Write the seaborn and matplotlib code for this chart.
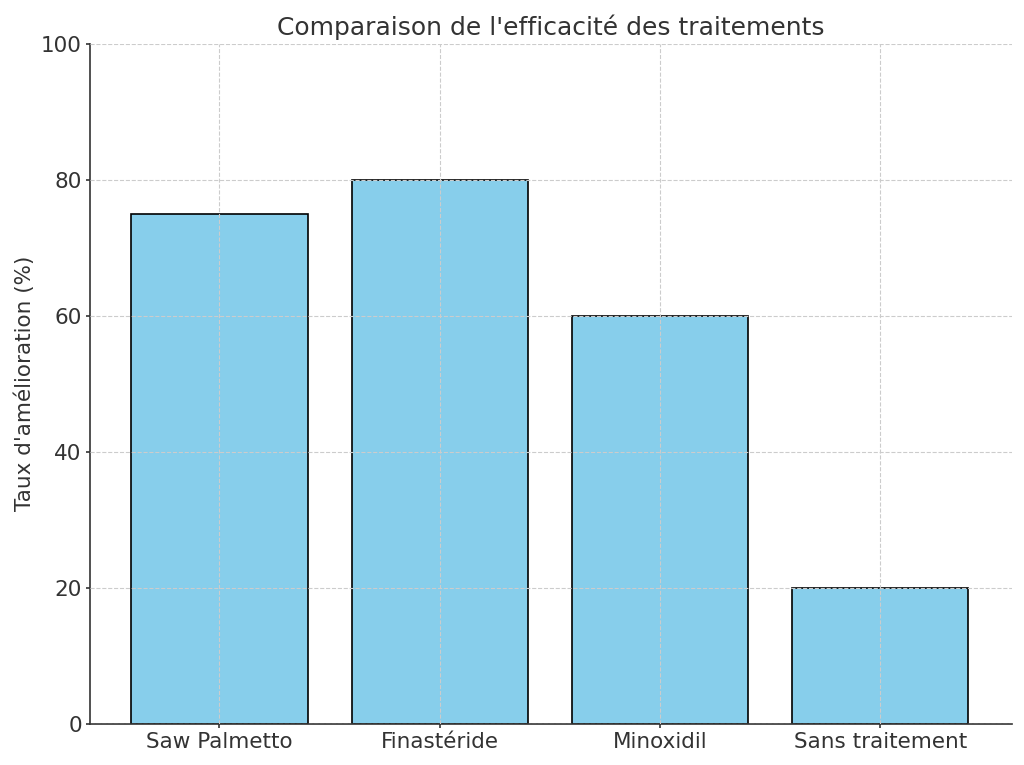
import matplotlib
matplotlib.use("Agg")
import matplotlib.pyplot as plt
import seaborn as sns
import pandas as pd

categories = ["Saw Palmetto", "Finastéride", "Minoxidil", "Sans traitement"]
values = [75, 80, 60, 20]

sns.set_style("white")
plt.rcParams['font.family'] = ['DejaVu Sans']
plt.rcParams['text.color'] = '#333333'
plt.rcParams['axes.labelcolor'] = '#333333'
plt.rcParams['xtick.color'] = '#333333'
plt.rcParams['ytick.color'] = '#333333'

df = pd.DataFrame({"Traitement": categories, "Taux": values})

fig, ax = plt.subplots(figsize=(10.24, 7.65), dpi=100)
sns.barplot(data=df, x="Traitement", y="Taux", color="skyblue", saturation=1,
            edgecolor="black", linewidth=1.2, width=0.8, ax=ax)
ax.set_ylim(0, 100)
ax.set_xlim(-0.587, 3.597)
ax.set_title("Comparaison de l'efficacité des traitements", fontsize=18)
ax.set_ylabel("Taux d'amélioration (%)", fontsize=15.5)
ax.set_xlabel("")
ax.tick_params(axis='both', labelsize=15.5, length=3, pad=3, width=1.2,
               color='#333333', left=True, bottom=True)
ax.grid(True, linestyle='--', color='#cccccc', linewidth=0.8)
ax.set_axisbelow(False)
for s in ['top', 'right']:
    ax.spines[s].set_visible(False)
for s in ['left', 'bottom']:
    ax.spines[s].set_color('#333333')
    ax.spines[s].set_linewidth(1.2)
fig.subplots_adjust(left=0.088, right=0.988, top=0.943, bottom=0.054)
fig.savefig("out.png", dpi=100)
